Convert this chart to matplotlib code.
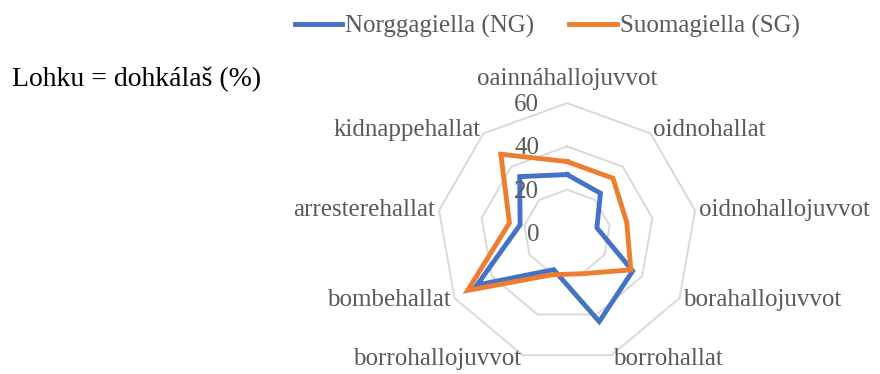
import matplotlib
matplotlib.use('Agg')
import matplotlib.pyplot as plt
import matplotlib.transforms as mtransforms
import numpy as np

categories = ['oainnáhallojuvvot', 'oidnohallat', 'oidnohallojuvvot', 'borahallojuvvot',
              'borrohallat', 'borrohallojuvvot', 'bombehallat', 'arresterehallat',
              'kidnappehallat']
ng_values = [27, 24, 14, 35, 43.5, 18, 48, 22, 34]
sg_values = [33, 33, 28, 34, 20, 20.5, 53, 27, 47.5]
ring_ticks = [0, 20, 40, 60]

BLUE = '#4472C4'
ORANGE = '#ED7D31'
GRAY = '#595959'
GRID = '#D9D9D9'
SERIF = 'Liberation Serif'
FS = 18

fig = plt.figure(figsize=(8.8, 3.74), dpi=100)
ax = fig.add_axes([0.4966, 0.0294, 0.2955, 0.695], projection='polar')
ax.set_theta_zero_location('N')
ax.set_theta_direction(-1)
ax.set_ylim(0, 60)
ax.set_axis_off()

n = len(categories)
angles = np.linspace(0, 2 * np.pi, n, endpoint=False)
closed = np.append(angles, angles[0])

# nonagon rings
for r in ring_ticks[1:]:
    ax.plot(closed, [r] * (n + 1), color=GRID, lw=1.4, zorder=1, clip_on=False)

ln_ng, = ax.plot(closed, ng_values + ng_values[:1], color=BLUE, lw=3.5,
                 solid_joinstyle='miter', zorder=3, clip_on=False,
                 label='Norggagiella (NG)')
ln_sg, = ax.plot(closed, sg_values + sg_values[:1], color=ORANGE, lw=3.5,
                 solid_joinstyle='miter', zorder=4, clip_on=False,
                 label='Suomagiella (SG)')

# radial tick labels
off = mtransforms.offset_copy(ax.transData, fig=fig, x=-28, y=-2, units='dots')
for r in ring_ticks:
    ax.text(0, r, str(r), transform=off, ha='right', va='center',
            fontsize=FS, color=GRAY, family=SERIF)

# category labels
for a, lab in zip(angles, categories):
    deg = np.degrees(a)
    if deg < 1:
        ax.text(a, 66, lab, ha='center', va='bottom', fontsize=FS,
                color=GRAY, family=SERIF)
    else:
        ha = 'left' if deg < 180 else 'right'
        ax.text(a, 62, lab, ha=ha, va='center', fontsize=FS,
                color=GRAY, family=SERIF)

fig.text(12 / 880, 1 - 79 / 374, 'Lohku = dohkálaš (%)', ha='left', va='center',
         fontsize=20, color='black', family=SERIF)

leg = fig.legend(handles=[ln_ng, ln_sg], loc='center', bbox_to_anchor=(0.622, 0.928),
                 ncol=2, frameon=False, handlelength=1.9, handletextpad=0.12,
                 columnspacing=1.4, prop={'family': SERIF, 'size': FS})
for t in leg.get_texts():
    t.set_color(GRAY)

fig.savefig('out.png', dpi=100)
